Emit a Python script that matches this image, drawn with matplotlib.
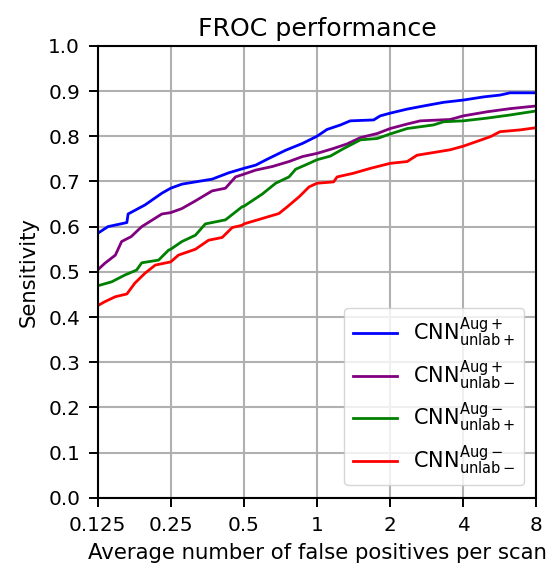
import matplotlib
matplotlib.use('Agg')
import matplotlib.pyplot as plt

# FROC curves, values
blue_x = [0.125, 0.138, 0.165, 0.167, 0.196, 0.230, 0.25, 0.278, 0.316, 0.370, 0.433, 0.5, 0.559, 0.634, 0.743, 0.871,
          1.0, 1.10, 1.25, 1.37, 1.71, 1.82, 2.0, 2.35, 2.75, 3.32, 4.0, 4.85, 5.66, 6.23, 8.0]
blue_y = [0.585, 0.600, 0.609, 0.628, 0.648, 0.674, 0.685, 0.694, 0.699, 0.705, 0.719, 0.729, 0.736, 0.751, 0.769, 0.784,
          0.800, 0.815, 0.825, 0.834, 0.836, 0.845, 0.851, 0.860, 0.867, 0.875, 0.880, 0.887, 0.891, 0.896, 0.896]

purple_x = [0.125, 0.134, 0.148, 0.157, 0.172, 0.190, 0.230, 0.25, 0.278, 0.316, 0.370, 0.420, 0.462, 0.5, 0.559, 0.655,
            0.767, 0.871, 1.0, 1.17, 1.33, 1.51, 1.77, 2.0, 2.35, 2.66, 3.53, 4.0, 5.0, 6.23, 8.0]
purple_y = [0.504, 0.519, 0.537, 0.567, 0.578, 0.600, 0.628, 0.631, 0.640, 0.657, 0.679, 0.685, 0.710, 0.716, 0.725, 0.733,
            0.744, 0.755, 0.762, 0.773, 0.783, 0.797, 0.806, 0.817, 0.827, 0.834, 0.837, 0.845, 0.854, 0.861, 0.867]

green_x = [0.125, 0.143, 0.162, 0.181, 0.190, 0.223, 0.245, 0.25, 0.278, 0.316, 0.347, 0.420, 0.492, 0.5, 0.595, 0.676,
           0.767, 0.817, 0.928, 1.0, 1.134, 1.29, 1.51, 1.77, 2.0, 2.35, 3.02, 3.32, 4.0, 5.0, 6.23, 8.0]
green_y = [0.469, 0.478, 0.493, 0.504, 0.520, 0.526, 0.548, 0.550, 0.567, 0.581, 0.606, 0.615, 0.644, 0.645, 0.672, 0.696,
           0.710, 0.727, 0.740, 0.748, 0.756, 0.773, 0.792, 0.795, 0.805, 0.817, 0.825, 0.832, 0.834, 0.840, 0.847, 0.856]

red_x = [0.125, 0.134, 0.148, 0.165, 0.178, 0.196, 0.216, 0.25, 0.269, 0.316, 0.358, 0.407, 0.448, 0.492, 0.5, 0.595,
         0.697, 0.755, 0.844, 0.928, 1.0, 1.17, 1.21, 1.41, 1.66, 2.0, 2.35, 2.58, 3.02, 3.53, 4.0, 5.17, 5.66, 6.86, 8.0]
red_y = [0.425, 0.434, 0.445, 0.451, 0.475, 0.497, 0.515, 0.522, 0.537, 0.550, 0.570, 0.576, 0.598, 0.603, 0.606, 0.618,
         0.629, 0.644, 0.666, 0.688, 0.696, 0.699, 0.710, 0.718, 0.729, 0.740, 0.744, 0.758, 0.764, 0.770, 0.778, 0.799,
         0.810, 0.814, 0.819]

labels = [r'CNN$^{\rm Aug+}_{\rm unlab+}$', r'CNN$^{\rm Aug+}_{\rm unlab-}$',
          r'CNN$^{\rm Aug-}_{\rm unlab+}$', r'CNN$^{\rm Aug-}_{\rm unlab-}$']
xticks = [0.125, 0.25, 0.5, 1, 2, 4, 8]
xtick_labels = ['0.125', '0.25', '0.5', '1', '2', '4', '8']

plt.rcParams.update({
    'xtick.labelsize': 14.4, 'ytick.labelsize': 14.4,
    'xtick.major.size': 6.5, 'ytick.major.size': 6.5,
    'xtick.major.width': 1.4, 'ytick.major.width': 1.4,
    'xtick.major.pad': 6.5, 'ytick.major.pad': 6,
})

fig = plt.figure(figsize=(5.48, 5.69), dpi=100)
ax = fig.add_axes([0.178, 0.125, 0.801, 0.7945])

ax.plot(blue_x, blue_y, color='blue', lw=2, label=labels[0])
ax.plot(purple_x, purple_y, color='purple', lw=2, label=labels[1])
ax.plot(green_x, green_y, color='green', lw=2, label=labels[2])
ax.plot(red_x, red_y, color='red', lw=2, label=labels[3])

ax.set_xscale('log', base=2)
ax.set_xlim(0.125, 8)
ax.set_ylim(0, 1)
ax.set_xticks(xticks)
ax.set_xticklabels(xtick_labels)
ax.minorticks_off()
ax.set_yticks([i / 10 for i in range(11)])

ax.grid(True, color='#b0b0b0', lw=1.5)
for s in ax.spines.values():
    s.set_linewidth(1.5)

ax.set_xlabel('Average number of false positives per scan', fontsize=15.3, labelpad=6)
ax.set_ylabel('Sensitivity', fontsize=15.2, labelpad=7)
ax.set_title('FROC performance', fontsize=18.2, pad=7)
ax.legend(loc='lower right', fontsize=15, labelspacing=0.44, handlelength=2.1,
          handletextpad=0.8, borderaxespad=0.6)

fig.savefig('out.png', dpi=100)
